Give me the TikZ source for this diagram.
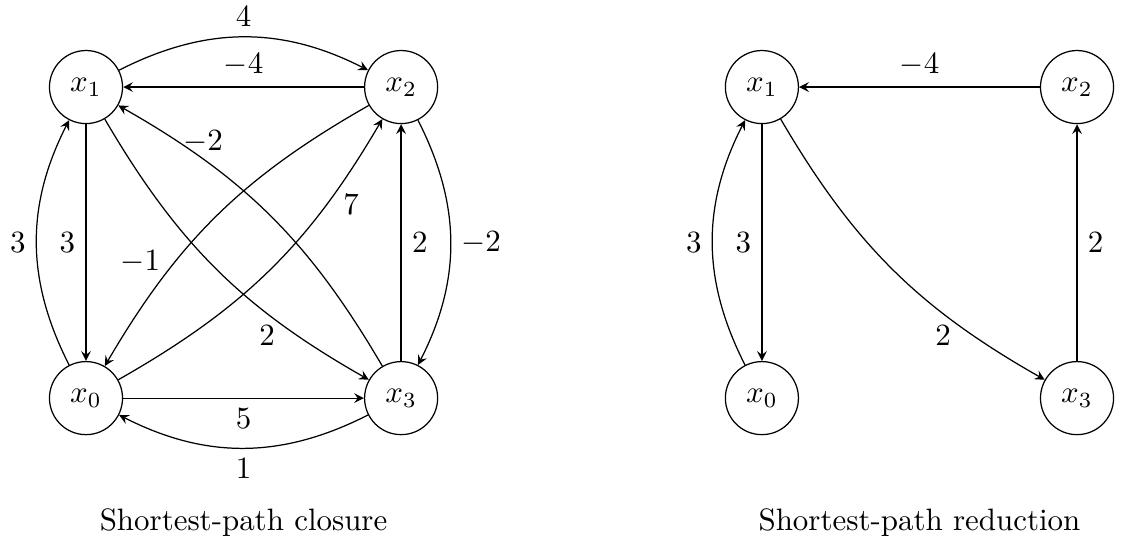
\documentclass[tikz,border=0pt]{standalone}
\usetikzlibrary{arrows,calc}
\begin{document}
\begin{tikzpicture}[vx/.style={circle,draw,minimum size=8.3mm,inner sep=1pt},>=stealth,
 dl/.style={auto,swap,inner sep=1pt}]
\useasboundingbox (0,0) rectangle (12.77,-6.284);
 % closure
 \path (0.977,-0.989) node[vx] (l1) {$x_1$} -- ++(0:3.58) node[vx] (l2) {$x_2$} -- ++(-90:3.534) node[vx] (l3) {$x_3$} -- ++(180:3.58) node[vx] (l0) {$x_0$};
 % reduction
 \path (8.656,-0.989) node[vx] (r1) {$x_1$} -- ++(0:3.58) node[vx] (r2) {$x_2$} -- ++(-90:3.534) node[vx] (r3) {$x_3$} -- ++(180:3.58) node[vx] (r0) {$x_0$};
\draw[->] (l1) edge[bend left=27] node[auto] {$4$} (l2) (l2) edge node[auto,swap] {$-4$} (l1)
 (l1) edge node[auto,swap] {$3$} (l0) (l0) edge[bend left=27] node[auto] {$3$} (l1)
 (l0) edge node[auto,swap] {$5$} (l3) (l3) edge[bend left=27] node[auto] {$1$} (l0)
 (l3) edge node[auto,swap] {$2$} (l2) (l2) edge[bend left=27] node[auto] {$-2$} (l3);
\draw[->] (l1) edge[bend right=15] node[pos=.73,dl] {$2$} (l3) (l3) edge[bend right=15] node[pos=.79,dl,xshift=-3.5pt,yshift=-2pt] {$-2$} (l1)
 (l2) edge[bend right=15] node[pos=.73,dl] {$-1$} (l0) (l0) edge[bend right=15] node[pos=.79,dl,xshift=1pt] {$7$} (l2);
\draw[->] (r2) edge node[auto,swap] {$-4$} (r1) (r1) edge node[auto,swap] {$3$} (r0) (r0) edge[bend left=27] node[auto] {$3$} (r1)
 (r1) edge[bend right=15] node[pos=.73,dl] {$2$} (r3) (r3) edge node[auto,swap] {$2$} (r2);
\node (cl) at ([yshift=-1.41cm]$(l0)!.5!(l3)$) {Shortest-path closure};
\node (rd) at ([yshift=-1.41cm]$(r0)!.5!(r3)$) {Shortest-path reduction};
\end{tikzpicture}
\end{document}
